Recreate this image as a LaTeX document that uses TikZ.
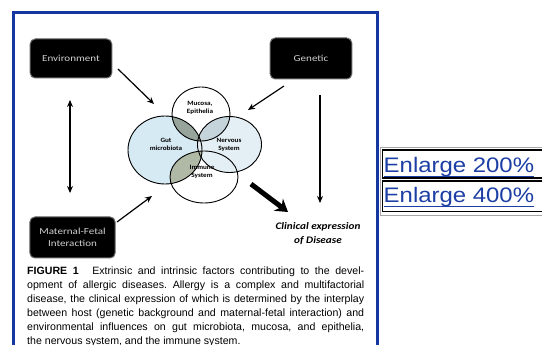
\documentclass[tikz,border=0pt]{standalone}
\usepackage{fontspec}
\setmainfont{Carlito}
\newfontfamily\capfont{Liberation Sans}
\newfontfamily\linkfont{Liberation Sans}
\usetikzlibrary{arrows.meta}
\frenchspacing
\definecolor{frameblue}{RGB}{22,54,160}
\definecolor{linkblue}{RGB}{28,62,165}
\definecolor{gutblue}{RGB}{214,234,244}
\definecolor{nervblue}{RGB}{228,239,245}
\definecolor{ovA}{RGB}{150,164,156}
\definecolor{ovB}{RGB}{176,184,166}
\definecolor{ovC}{RGB}{196,212,218}
\tikzset{
  darkbox/.style={fill=black, draw=black!60, line width=1pt, rounded corners=5pt, inner sep=0pt, align=center,
    text=black!18, font=\fontsize{9.2}{10}\selectfont, xscale=1.2},
  thinarrow/.style={line width=1.2pt, -{Stealth[length=7pt,width=6pt]}},
  thickarrow/.style={line width=5pt, -{Stealth[length=12pt,width=15pt]}},
  venn/.style={draw=black, line width=0.9pt},
  vennlabel/.style={font=\bfseries\fontsize{6.5}{7}\selectfont, align=center, inner sep=0pt, xscale=1.1},
  capline/.style={font=\capfont\fontsize{10.6}{12}\selectfont, inner sep=0pt, anchor=base west},
  linktext/.style={font=\linkfont\fontsize{21}{24}\selectfont, text=linkblue, inner sep=0pt, anchor=base west, xscale=1.14},
  clin/.style={font=\bfseries\itshape\fontsize{10}{11}\selectfont, inner sep=0pt, xscale=1.12}
}
\begin{document}
\begin{tikzpicture}[x=1pt,y=-1pt]
\useasboundingbox (0,0) rectangle (542,345);
\fill[white] (0,0) rectangle (542,345);

% blue frame
\draw[frameblue, line width=3pt] (13.3,360) -- (13.3,12.5) -- (377.5,12.5) -- (377.5,360);

% enlarge table
\draw[black!35, line width=0.8pt] (380,147.5) -- (545,147.5);
\draw[black!35, line width=0.8pt] (380,147.5) -- (380,215) -- (545,215);
\draw[black, line width=1.5pt] (382.5,149.8) rectangle (548,178);
\draw[black, line width=1.5pt] (382.5,181.2) rectangle (548,211.5);
\node[linktext] (enl2) at (383.5,172.7) {Enlarge 200\%};
\node[linktext] (enl4) at (383.5,202.5) {Enlarge 400\%};
\draw[linkblue, line width=1.3pt] ([yshift=-3.8pt]enl2.base west) -- ([yshift=-3.8pt]enl2.base east);
\draw[linkblue, line width=1.3pt] ([yshift=-3.8pt]enl4.base west) -- ([yshift=-3.8pt]enl4.base east);

% boxes
\node[darkbox, minimum width=68pt, minimum height=39pt] (env) at (71,58.5) {Environment};
\node[darkbox, minimum width=68pt, minimum height=41pt] (gen) at (311,58.5) {Genetic};
\node[darkbox, minimum width=71pt, minimum height=41pt] (mat) at (72.5,237.5) {Maternal-Fetal\\[1.5pt]Interaction};

% Venn
\fill[gutblue] (165,150) ellipse[x radius=37pt, y radius=34pt];
\fill[nervblue] (229.5,144.5) ellipse[x radius=32pt, y radius=28pt];
\begin{scope}
  \clip (201,114) ellipse[x radius=29pt, y radius=27pt];
  \fill[ovC] (229.5,144.5) ellipse[x radius=32pt, y radius=28pt];
  \fill[ovA] (165,150) ellipse[x radius=37pt, y radius=34pt];
\end{scope}
\begin{scope}
  \clip (204,177) ellipse[x radius=34pt, y radius=26pt];
  \fill[ovB] (165,150) ellipse[x radius=37pt, y radius=34pt];
\end{scope}
\draw[venn] (165,150) ellipse[x radius=37pt, y radius=34pt];
\draw[venn] (201,114) ellipse[x radius=29pt, y radius=27pt];
\draw[venn] (229.5,144.5) ellipse[x radius=32pt, y radius=28pt];
\draw[venn] (204,177) ellipse[x radius=34pt, y radius=26pt];

\node[vennlabel] (muc) at (200,108) {Mucosa,\\[1pt]Epithelia};
\node[vennlabel] (gut) at (166,144) {Gut\\[1pt]microbiota};
\node[vennlabel] (ner) at (229,145) {Nervous\\[1pt]System};
\node[vennlabel] (imm) at (202,172) {Immune\\[1pt]System};

% clinical expression
\node[clin, align=center] (clin) at (318,234) {Clinical expression\\[3pt]of Disease};

% arrow end points
\coordinate (envA) at (118,69);
\coordinate (envB) at (154,104);
\coordinate (genA) at (284,86);
\coordinate (genB) at (248,110);
\coordinate (matA) at (117,222);
\coordinate (matB) at (152,196);
\coordinate (lvA) at (70,100);
\coordinate (lvB) at (70,193);
\coordinate (rvA) at (320,95);
\coordinate (rvB) at (320,203);
\coordinate (thA) at (251,184);
\coordinate (thB) at (288,212);

\draw[thinarrow] (envA) -- (envB);
\draw[thinarrow] (genA) -- (genB);
\draw[thinarrow] (matA) -- (matB);
\draw[thinarrow, {Stealth[length=7pt,width=6pt]}-{Stealth[length=7pt,width=6pt]}] (lvA) -- (lvB);
\draw[thinarrow] (rvA) -- (rvB);
\draw[thickarrow] (thA) -- (thB);

% caption
\node[capline] (cap1) at (27,275) {\hbox to 337pt{\textbf{FIGURE 1}\hspace{8pt} Extrinsic and intrinsic factors contributing to the devel-}};
\node[capline] (cap2) at (27,288.8) {\hbox to 337pt{opment of allergic diseases. Allergy is a complex and multifactorial}};
\node[capline] (cap3) at (27,302.6) {\hbox to 337pt{disease, the clinical expression of which is determined by the interplay}};
\node[capline] (cap4) at (27,316.4) {\hbox to 337pt{between host (genetic background and maternal-fetal interaction) and}};
\node[capline] (cap5) at (27,330.2) {\hbox to 337pt{environmental influences on gut microbiota, mucosa, and epithelia,}};
\node[capline] (cap6) at (27,344) {the nervous system, and the immune system.};
\end{tikzpicture}
\end{document}
